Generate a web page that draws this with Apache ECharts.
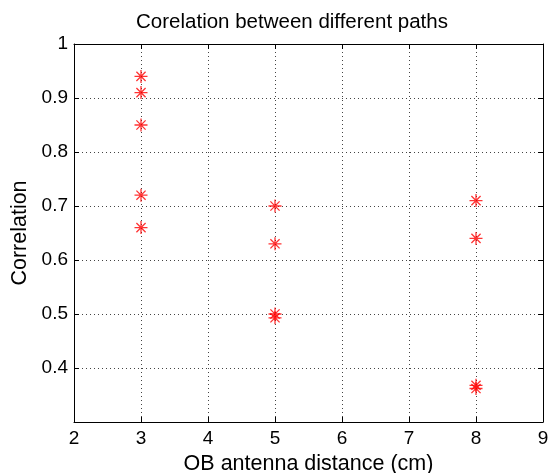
<!DOCTYPE html>
<html>
<head>
<meta charset="utf-8">
<script src="https://cdn.jsdelivr.net/npm/echarts@6/dist/echarts.min.js"></script>
<style>
html,body{margin:0;padding:0;background:#fff;}
#chart{width:556px;height:473px;}
</style>
</head>
<body>
<div id="chart"></div>
<script>
const chartTitle = 'Corelation between different paths';
const xAxisName = 'OB antenna distance (cm)';
const yAxisName = 'Correlation';
const antennaDistance = [3, 3, 3, 3, 3, 5, 5, 5, 5, 8, 8, 8, 8];
const correlation = [0.94, 0.91, 0.85, 0.72, 0.66, 0.70, 0.63, 0.50, 0.493, 0.71, 0.64, 0.368, 0.362];
const xRange = [2, 9];
const yRange = [0.3, 1];

const points = antennaDistance.map((d, i) => [d, correlation[i]]);
const font = 'Liberation Sans, Arial, sans-serif';
const asterisk = 'path://M6,0L6,12M0,6L12,6M1.76,1.76L10.24,10.24M1.76,10.24L10.24,1.76';

const gridLine = { show: true, lineStyle: { color: '#444', width: 1, type: [1, 3] } };
const axisLine = { show: true, onZero: false, lineStyle: { color: '#000', width: 1 } };
const tick = { show: true, inside: true, length: 5, lineStyle: { color: '#000' } };

const chart = echarts.init(document.getElementById('chart'), null, { renderer: 'canvas' });
chart.setOption({
  animation: false,
  backgroundColor: '#fff',
  title: {
    text: chartTitle,
    left: 287, top: 7, textAlign: 'center',
    textStyle: { fontFamily: font, fontSize: 20.5, fontWeight: 'normal', color: '#000' }
  },
  grid: { left: 74, right: 13, top: 44, bottom: 51, outerBoundsMode: 'none', containLabel: false },
  xAxis: [{
    type: 'value', min: xRange[0], max: xRange[1], interval: 1,
    name: xAxisName, nameLocation: 'middle', nameGap: 29,
    nameTextStyle: { fontFamily: font, fontSize: 21.5, color: '#000' },
    axisLine: axisLine, axisTick: tick, splitLine: gridLine,
    axisLabel: { fontFamily: font, fontSize: 19, color: '#000', margin: 7 }
  }, {
    type: 'value', min: xRange[0], max: xRange[1], interval: 1, position: 'top',
    axisLine: axisLine, axisTick: tick, splitLine: { show: false }, axisLabel: { show: false }
  }],
  yAxis: [{
    type: 'value', min: yRange[0], max: yRange[1], interval: 0.1,
    name: yAxisName, nameLocation: 'middle', nameGap: 41,
    nameTextStyle: { fontFamily: font, fontSize: 21.5, color: '#000' },
    axisLine: axisLine, axisTick: tick, splitLine: gridLine,
    axisLabel: {
      fontFamily: font, fontSize: 19, color: '#000', margin: 6,
      formatter: v => (v < 0.35 ? '' : (Math.abs(v - 1) < 1e-9 ? '1' : v.toFixed(1)))
    }
  }, {
    type: 'value', min: yRange[0], max: yRange[1], interval: 0.1, position: 'right',
    axisLine: axisLine, axisTick: tick, splitLine: { show: false }, axisLabel: { show: false }
  }],
  series: [{
    type: 'scatter',
    data: points,
    symbol: asterisk,
    symbolSize: 13,
    itemStyle: { color: 'rgba(0,0,0,0)', borderColor: '#ff0000', borderWidth: 1.3 }
  }]
});
</script>
</body>
</html>
